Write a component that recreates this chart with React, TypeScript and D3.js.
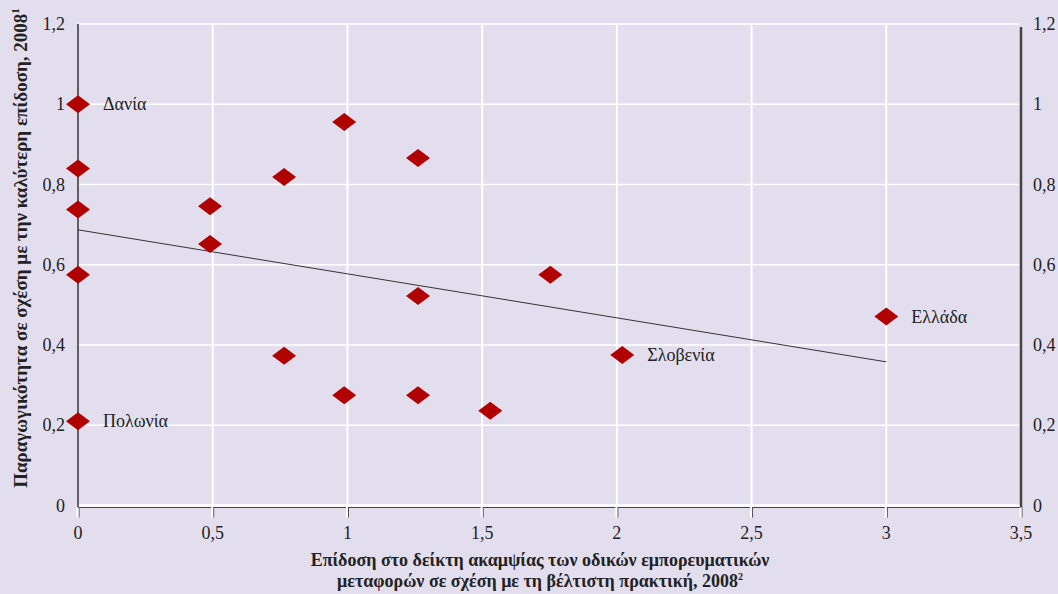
import React, { useEffect, useRef } from 'react';
import * as d3 from 'd3';

// Performance on road freight rigidity index (x) vs productivity (y)
const pointX = [0, 0, 0, 0, 0, 0.49, 0.49, 0.765, 0.765, 0.988, 0.988, 1.262, 1.262, 1.262, 1.53, 1.753, 2.02, 3.0];
const pointY = [1.0, 0.84, 0.738, 0.575, 0.21, 0.746, 0.652, 0.819, 0.373, 0.956, 0.275, 0.866, 0.522, 0.275, 0.236, 0.575, 0.375, 0.471];
const pointLabels = ['Δανία', '', '', '', 'Πολωνία', '', '', '', '', '', '', '', '', '', '', '', 'Σλοβενία', 'Ελλάδα'];

const trendX = [0, 3];
const trendY = [0.687, 0.358];

const xTicks = [0, 0.5, 1, 1.5, 2, 2.5, 3, 3.5];
const yTicks = [0, 0.2, 0.4, 0.6, 0.8, 1, 1.2];

const yTitle = 'Παραγωγικότητα σε σχέση με την καλύτερη επίδοση, 2008';
const xTitle1 = 'Επίδοση στο δείκτη ακαμψίας των οδικών εμπορευματικών';
const xTitle2 = 'μεταφορών σε σχέση με τη βέλτιστη πρακτική, 2008';

const W = 1058;
const H = 594;
const BG = '#e2deee';
const FONT = '"Liberation Serif", "DejaVu Serif", serif';

const fmt = (v: number) => String(v).replace('.', ',');

const App: React.FC = () => {
  const ref = useRef<SVGSVGElement | null>(null);

  useEffect(() => {
    if (!ref.current) return;
    const svg = d3.select(ref.current);
    svg.selectAll('*').remove();

    const left = 78, right = 1021, top = 24, bottom = 505.5;
    const x = d3.scaleLinear().domain([0, 3.5]).range([left, right]);
    const y = d3.scaleLinear().domain([0, 1.2]).range([bottom, top]);

    svg.append('rect').attr('width', W).attr('height', H).attr('fill', BG);

    const g = svg.append('g');

    // grid
    g.selectAll('line.hgrid')
      .data(yTicks.filter(t => t > 0))
      .enter().append('line')
      .attr('x1', left).attr('x2', right - 2)
      .attr('y1', d => y(d)).attr('y2', d => y(d))
      .attr('stroke', '#fff').attr('stroke-width', 1.5);

    g.selectAll('line.vgrid')
      .data(xTicks.filter(t => t > 0 && t < 3.5))
      .enter().append('line')
      .attr('x1', d => x(d)).attr('x2', d => x(d))
      .attr('y1', top).attr('y2', bottom)
      .attr('stroke', '#fff').attr('stroke-width', 2);

    // x axis: white line with dark shadow, ticks downward
    g.append('line')
      .attr('x1', left).attr('x2', right)
      .attr('y1', bottom + 2).attr('y2', bottom + 2)
      .attr('stroke', '#444').attr('stroke-width', 1);
    g.append('line')
      .attr('x1', left).attr('x2', right)
      .attr('y1', bottom).attr('y2', bottom)
      .attr('stroke', '#fff').attr('stroke-width', 2.5);
    g.selectAll('line.xtick')
      .data(xTicks)
      .enter().append('line')
      .attr('x1', d => x(d) + 1).attr('x2', d => x(d) + 1)
      .attr('y1', bottom + 2).attr('y2', bottom + 12)
      .attr('stroke', '#444').attr('stroke-width', 1);
    g.selectAll('line.xtickw')
      .data(xTicks)
      .enter().append('line')
      .attr('x1', d => x(d) - 0.5).attr('x2', d => x(d) - 0.5)
      .attr('y1', bottom).attr('y2', bottom + 12)
      .attr('stroke', '#fff').attr('stroke-width', 2);

    // left and right axis lines
    g.append('line')
      .attr('x1', left).attr('x2', left)
      .attr('y1', top).attr('y2', bottom + 2)
      .attr('stroke', '#333').attr('stroke-width', 1.5);
    g.append('line')
      .attr('x1', right).attr('x2', right)
      .attr('y1', top + 3).attr('y2', bottom + 2)
      .attr('stroke', '#444').attr('stroke-width', 2.5);

    // tick labels
    g.selectAll('text.yl')
      .data(yTicks)
      .enter().append('text')
      .attr('x', left - 13).attr('y', d => y(d) + 6)
      .attr('text-anchor', 'end')
      .attr('font-family', FONT).attr('font-size', 18).attr('fill', '#222')
      .text(d => fmt(d));
    g.selectAll('text.yr')
      .data(yTicks)
      .enter().append('text')
      .attr('x', right + 12).attr('y', d => y(d) + 6)
      .attr('text-anchor', 'start')
      .attr('font-family', FONT).attr('font-size', 18).attr('fill', '#222')
      .text(d => fmt(d));
    g.selectAll('text.xl')
      .data(xTicks)
      .enter().append('text')
      .attr('x', d => x(d)).attr('y', bottom + 33)
      .attr('text-anchor', 'middle')
      .attr('font-family', FONT).attr('font-size', 18).attr('fill', '#222')
      .text(d => fmt(d));

    // trend line
    const line = d3.line<number>()
      .x((_, i) => x(trendX[i]))
      .y(d => y(d));
    g.append('path')
      .datum(trendY)
      .attr('d', line)
      .attr('fill', 'none')
      .attr('stroke', '#333')
      .attr('stroke-width', 1);

    // points
    const pts = pointX.map((px, i) => ({ x: px, y: pointY[i], label: pointLabels[i] }));
    const dw = 12, dh = 9;
    g.selectAll('path.pt')
      .data(pts)
      .enter().append('path')
      .attr('d', d => {
        const cx = x(d.x), cy = y(d.y);
        return `M${cx - dw},${cy}L${cx},${cy - dh}L${cx + dw},${cy}L${cx},${cy + dh}Z`;
      })
      .attr('fill', '#b00000');

    g.selectAll('text.pl')
      .data(pts.filter(p => p.label))
      .enter().append('text')
      .attr('x', d => x(d.x) + 25).attr('y', d => y(d.y) + 6)
      .attr('font-family', FONT).attr('font-size', 18).attr('fill', '#222')
      .text(d => d.label);

    // y title
    const yt = svg.append('text')
      .attr('transform', `translate(27,248) rotate(-90)`)
      .attr('text-anchor', 'middle')
      .attr('font-family', FONT).attr('font-size', 19).attr('font-weight', 'bold').attr('fill', '#222');
    yt.append('tspan').text(yTitle);
    yt.append('tspan').attr('font-size', 11).attr('dy', -8).text('1');

    // x title
    svg.append('text')
      .attr('x', 540).attr('y', 566)
      .attr('text-anchor', 'middle')
      .attr('font-family', FONT).attr('font-size', 18).attr('font-weight', 'bold').attr('fill', '#222')
      .text(xTitle1);
    const xt2 = svg.append('text')
      .attr('x', 540).attr('y', 587)
      .attr('text-anchor', 'middle')
      .attr('font-family', FONT).attr('font-size', 18).attr('font-weight', 'bold').attr('fill', '#222');
    xt2.append('tspan').text(xTitle2);
    xt2.append('tspan').attr('font-size', 10).attr('dy', -7).text('2');
  }, []);

  return (
    <div style={{ position: 'fixed', left: 0, top: 0, width: W, height: H, overflow: 'hidden' }}>
      <svg ref={ref} width={W} height={H} style={{ display: 'block' }} />
    </div>
  );
};

export default App;
